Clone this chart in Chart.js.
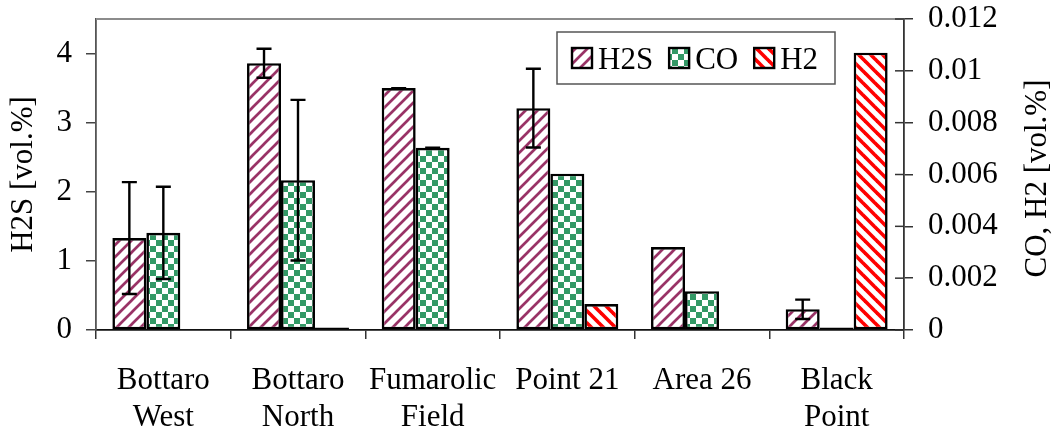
<!DOCTYPE html>
<html>
<head>
<meta charset="utf-8">
<script src="https://cdn.jsdelivr.net/npm/chart.js@4/dist/chart.umd.min.js"></script>
<style>
  html, body { margin: 0; padding: 0; background: #fff; }
  #wrap { width: 1060px; height: 432px; position: relative; }
</style>
</head>
<body>
<div id="wrap"><canvas id="chart"></canvas></div>
<script>
// Sampling sites
const categories = [["Bottaro", "West"], ["Bottaro", "North"], ["Fumarolic", "Field"], ["Point 21"], ["Area 26"], ["Black", "Point"]];

// H2S concentration [vol.%] (left axis) and its error
const h2sValues = [1.33, 3.86, 3.50, 3.21, 1.20, 0.30];
const h2sErrors = [0.81, 0.21, 0, 0.57, null, 0.14];

// CO concentration [vol.%] (right axis) and its error
const coValues = [0.00375, 0.00578, 0.00703, 0.00603, 0.0015, 0.0001];
const coErrors = [0.00178, 0.0031, 0, null, null, null];

// H2 concentration [vol.%] (right axis)
const h2Values = [null, 0.0001, null, 0.001, null, 0.0107];

// Axis ticks
const leftTicks = [0, 1, 2, 3, 4];
const rightTickLabels = ["0", "0.002", "0.004", "0.006", "0.008", "0.01", "0.012"];
const leftTitle = "H2S [vol.%]";
const rightTitle = "CO, H2 [vol.%]";

const FONT = "'Liberation Serif', 'Times New Roman', serif";
const FS = 31;

function stripePattern(color, upward, width) {
  const s = 12;
  const c = document.createElement('canvas');
  c.width = s; c.height = s;
  const g = c.getContext('2d');
  g.fillStyle = '#fff';
  g.fillRect(0, 0, s, s);
  g.strokeStyle = color;
  g.lineWidth = width;
  g.lineCap = 'square';
  for (let k = -1; k <= 1; k++) {
    g.beginPath();
    if (upward) {
      g.moveTo(k * s, s); g.lineTo(k * s + s, 0);
    } else {
      g.moveTo(k * s, 0); g.lineTo(k * s + s, s);
    }
    g.stroke();
  }
  return g.createPattern(c, 'repeat');
}

function checkerPattern(color) {
  const s = 12, h = 6;
  const c = document.createElement('canvas');
  c.width = s; c.height = s;
  const g = c.getContext('2d');
  g.fillStyle = '#fff';
  g.fillRect(0, 0, s, s);
  g.fillStyle = color;
  g.fillRect(0, 0, h, h);
  g.fillRect(h, h, h, h);
  return g.createPattern(c, 'repeat');
}

const h2sFill = stripePattern('#993366', true, 2.7);
const coFill = checkerPattern('#339966');
const h2Fill = stripePattern('#ff0000', false, 3.6);

const errorSets = [h2sErrors, coErrors, null];

// Error bars with caps, drawn on top of the bars
const errorBars = {
  id: 'errorBars',
  afterDatasetsDraw(chart) {
    const ctx = chart.ctx;
    ctx.save();
    ctx.strokeStyle = '#000';
    ctx.lineWidth = 2.4;
    chart.data.datasets.forEach((ds, i) => {
      const errs = errorSets[i];
      if (!errs) return;
      const meta = chart.getDatasetMeta(i);
      const scale = chart.scales[meta.yAxisID];
      meta.data.forEach((bar, j) => {
        const e = errs[j];
        const v = ds.data[j];
        if (e === null || e === undefined || v === null) return;
        const yt = scale.getPixelForValue(v + e);
        const yb = scale.getPixelForValue(v - e);
        const x = bar.x, cw = 7.5;
        ctx.beginPath();
        ctx.moveTo(x, yt); ctx.lineTo(x, yb);
        ctx.moveTo(x - cw, yt); ctx.lineTo(x + cw, yt);
        ctx.moveTo(x - cw, yb); ctx.lineTo(x + cw, yb);
        ctx.stroke();
      });
    });
    ctx.restore();
  }
};

// Frame line on top, inner tick marks on the right axis, axis titles and legend
const decorations = {
  id: 'decorations',
  afterDraw(chart) {
    const ctx = chart.ctx;
    const a = chart.chartArea;
    const r = chart.scales.y2;
    ctx.save();
    // top frame line
    ctx.strokeStyle = '#8c8c8c';
    ctx.lineWidth = 2;
    ctx.beginPath();
    ctx.moveTo(a.left, a.top); ctx.lineTo(a.right, a.top);
    ctx.stroke();
    // right axis ticks reaching into the plot
    ctx.strokeStyle = '#333';
    ctx.lineWidth = 1.5;
    r.ticks.forEach((t, k) => {
      const y = r.getPixelForTick(k);
      ctx.beginPath();
      ctx.moveTo(a.right - 9, y); ctx.lineTo(a.right, y);
      ctx.stroke();
    });
    // axis titles
    ctx.fillStyle = '#000';
    ctx.font = FS + 'px ' + FONT;
    ctx.textAlign = 'center';
    ctx.textBaseline = 'middle';
    const cy = (a.top + a.bottom) / 2;
    ctx.save();
    ctx.translate(24, cy);
    ctx.rotate(-Math.PI / 2);
    ctx.fillText(leftTitle, 0, 0);
    ctx.restore();
    ctx.save();
    ctx.translate(1038, cy + 4);
    ctx.rotate(-Math.PI / 2);
    ctx.fillText(rightTitle, 0, 0);
    ctx.restore();

    // legend
    const boxL = 557, boxT = 32, boxR = 835, boxB = 84;
    ctx.strokeStyle = '#555';
    ctx.lineWidth = 1.5;
    ctx.fillStyle = '#fff';
    ctx.fillRect(boxL, boxT, boxR - boxL, boxB - boxT);
    ctx.strokeRect(boxL, boxT, boxR - boxL, boxB - boxT);
    let x = 572;
    const sw = 20, midY = (boxT + boxB) / 2;
    ctx.textAlign = 'left';
    ctx.textBaseline = 'alphabetic';
    chart.data.datasets.forEach(ds => {
      ctx.fillStyle = ds.backgroundColor;
      ctx.fillRect(x, midY - sw / 2, sw, sw);
      ctx.strokeStyle = '#000';
      ctx.lineWidth = 2.4;
      ctx.strokeRect(x, midY - sw / 2, sw, sw);
      ctx.fillStyle = '#000';
      ctx.fillText(ds.label, x + sw + 6, midY + 10.5);
      x += sw + 6 + ctx.measureText(ds.label).width + 16;
    });
    ctx.restore();
  }
};

const tickFont = { family: FONT, size: FS, lineHeight: 1.2 };

// Vertical axes: fixed width, no extra label padding above the plot
function fitVertical(width) {
  return s => { s.width = width; s.paddingTop = 0; s.paddingBottom = 0; };
}

new Chart(document.getElementById('chart'), {
  type: 'bar',
  data: {
    labels: categories,
    datasets: [
      { label: 'H2S', data: h2sValues, yAxisID: 'y', backgroundColor: h2sFill },
      { label: 'CO', data: coValues, yAxisID: 'y2', backgroundColor: coFill },
      { label: 'H2', data: h2Values, yAxisID: 'y2', backgroundColor: h2Fill }
    ]
  },
  options: {
    responsive: true,
    maintainAspectRatio: false,
    animation: false,
    devicePixelRatio: 1,
    layout: { padding: { top: 19, left: 0, right: 0, bottom: 0 } },
    datasets: {
      bar: {
        barPercentage: 1,
        categoryPercentage: 0.757,
        borderColor: '#000',
        borderWidth: 2.6,
        borderSkipped: false,
        grouped: true
      }
    },
    plugins: {
      legend: { display: false },
      tooltip: { enabled: false }
    },
    scales: {
      x: {
        offset: true,
        grid: { offset: true, drawOnChartArea: false, drawTicks: true, tickLength: 9, color: '#333', lineWidth: 1.5 },
        border: { color: '#111', width: 1.8 },
        ticks: { font: tickFont, color: '#000', padding: 23, maxRotation: 0, autoSkip: false },
        afterFit(s) { s.height = 102; s.paddingLeft = 0; s.paddingRight = 0; }
      },
      y: {
        position: 'left',
        min: 0, max: 4.5,
        afterBuildTicks(s) { s.ticks = leftTicks.map(v => ({ value: v })); },
        grid: { drawOnChartArea: false, drawTicks: true, tickLength: 10, color: '#444', lineWidth: 1.5 },
        border: { color: '#555', width: 1.8 },
        ticks: { font: tickFont, color: '#000', padding: 14 },
        afterFit: fitVertical(96)
      },
      y2: {
        position: 'right',
        min: 0, max: 0.012,
        afterBuildTicks(s) { s.ticks = rightTickLabels.map(t => ({ value: parseFloat(t) })); },
        grid: { drawOnChartArea: false, drawTicks: true, tickLength: 9, color: '#333', lineWidth: 1.5 },
        border: { color: '#333', width: 1.8 },
        ticks: { font: tickFont, color: '#000', padding: 15, callback: (v, k) => rightTickLabels[k] },
        afterFit: fitVertical(156)
      }
    }
  },
  plugins: [errorBars, decorations]
});
</script>
</body>
</html>
